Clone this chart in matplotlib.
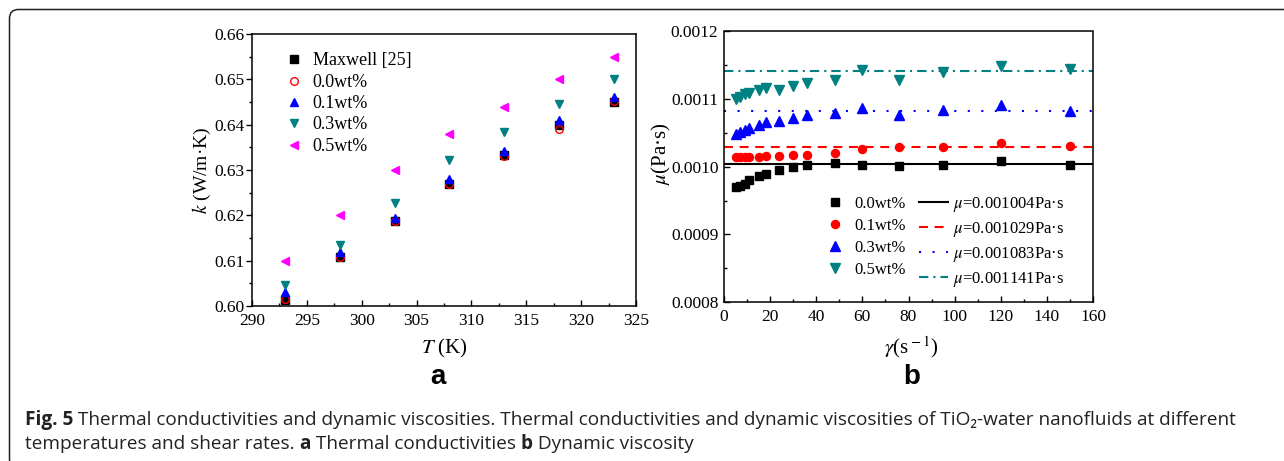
import matplotlib
matplotlib.use('Agg')
import matplotlib.pyplot as plt
from matplotlib import font_manager
from matplotlib.patches import FancyBboxPatch
from matplotlib.lines import Line2D
from matplotlib.transforms import IdentityTransform
from matplotlib.ticker import MultipleLocator, FormatStrFormatter

# ---- panel a: thermal conductivity vs temperature
T = [293, 298, 303, 308, 313, 318, 323]
k_maxwell = [0.6014, 0.6108, 0.6187, 0.6270, 0.6332, 0.6399, 0.6450]
k_00 = [0.6016, 0.6108, 0.6187, 0.6270, 0.6331, 0.6390, 0.6453]
k_01 = [0.6031, 0.6119, 0.6195, 0.6280, 0.6342, 0.6411, 0.6460]
k_03 = [0.6047, 0.6135, 0.6227, 0.6322, 0.6383, 0.6445, 0.6500]
k_05 = [0.6100, 0.6200, 0.6300, 0.6380, 0.6440, 0.6500, 0.6550]
a_labels = ['Maxwell [25]', '0.0wt%', '0.1wt%', '0.3wt%', '0.5wt%']

# ---- panel b: viscosity vs shear rate
gamma = [5, 7, 9, 11, 15, 18, 24, 30, 36, 48, 60, 76, 95, 120, 150]
mu_00 = [0.000970, 0.000972, 0.000975, 0.000980, 0.000987, 0.000990, 0.000995,
         0.000999, 0.001003, 0.001005, 0.001003, 0.001001, 0.001003, 0.001009, 0.001003]
mu_01 = [0.001014, 0.0010143, 0.0010148, 0.001015, 0.001015, 0.001016, 0.0010166,
         0.001017, 0.001017, 0.001020, 0.001026, 0.001029, 0.001029, 0.001035, 0.001031]
mu_03 = [0.001049, 0.001051, 0.001054, 0.001058, 0.001062, 0.001066, 0.001068,
         0.001072, 0.001076, 0.001079, 0.001087, 0.001076, 0.001084, 0.001092, 0.001083]
mu_05 = [0.001100, 0.001103, 0.001107, 0.001109, 0.001113, 0.001117, 0.001114,
         0.001119, 0.001124, 0.001129, 0.001143, 0.001129, 0.001140, 0.001149, 0.001145]
mu_fit = [0.001004, 0.001029, 0.001083, 0.001141]
b_labels = ['0.0wt%', '0.1wt%', '0.3wt%', '0.5wt%']

TEAL = '#008080'

plt.rcParams['font.family'] = ['Liberation Serif', 'DejaVu Serif']
plt.rcParams['mathtext.fontset'] = 'stix'

W, H = 1284, 461
fig = plt.figure(figsize=(W / 100, H / 100), dpi=100)


def px_axes(l, r, t, b):
    return fig.add_axes([l / W, 1 - b / H, (r - l) / W, (b - t) / H])


# ================= panel a
ax = px_axes(252, 636, 34, 306)
ax.plot(T, k_maxwell, 's', color='black', ms=5.2, label=a_labels[0])
ax.plot(T, k_00, 'o', mfc='none', mec='red', mew=1.0, ms=5.5, label=a_labels[1])
ax.plot(T, k_01, '^', color='blue', ms=6.2, label=a_labels[2])
ax.plot(T, k_03, 'v', color=TEAL, ms=6.2, label=a_labels[3])
ax.plot(T, k_05, '<', color='magenta', ms=6.2, label=a_labels[4])
ax.set_xlim(290, 325)
ax.set_ylim(0.60, 0.66)
ax.xaxis.set_major_locator(MultipleLocator(5))
ax.xaxis.set_minor_locator(MultipleLocator(2.5))
ax.yaxis.set_major_locator(MultipleLocator(0.01))
ax.yaxis.set_minor_locator(MultipleLocator(0.005))
ax.yaxis.set_major_formatter(FormatStrFormatter('%.2f'))
ax.tick_params(axis='x', which='both', direction='in', labelsize=12.5, pad=5)
ax.tick_params(axis='y', which='both', direction='out', labelsize=12.5, pad=1.5)
ax.tick_params(which='major', length=4, width=1)
ax.tick_params(which='minor', length=2.5, width=1)
for s in ax.spines.values():
    s.set_linewidth(1.1)
ax.set_xlabel('$T$ (K)', fontsize=15)
ax.set_ylabel('$k$ (W/m·K)', fontsize=14)
ax.xaxis.set_label_coords(0.502, -0.114)
ax.yaxis.set_label_coords(-0.102, 0.5)
ax.legend(loc='upper left', bbox_to_anchor=(0.085, 0.932), frameon=False, fontsize=13,
          borderaxespad=0, borderpad=0, handlelength=1.0, handletextpad=0.55,
          labelspacing=0.24)

# ================= panel b
bx = px_axes(724, 1093, 31.5, 302)
markers = ['s', 'o', '^', 'v']
colors = ['black', 'red', 'blue', TEAL]
sizes = [5.3, 5.8, 6.6, 6.6]
styles = ['-', (0, (4.3, 3.2)), (0, (1.0, 5.5)), (0, (4.5, 2.4, 1.0, 2.4))]
series = [mu_00, mu_01, mu_03, mu_05]
for mu, m, c, ms in zip(series, markers, colors, sizes):
    bx.plot(gamma, mu, m, color=c, ms=ms, ls='none')
for v, c, st in zip(mu_fit, colors, styles):
    bx.axhline(v, color=c, ls=st, lw=1.5)
bx.set_xlim(0, 160)
bx.set_ylim(0.0008, 0.0012)
bx.xaxis.set_major_locator(MultipleLocator(20))
bx.xaxis.set_minor_locator(MultipleLocator(10))
bx.yaxis.set_major_locator(MultipleLocator(0.0001))
bx.yaxis.set_minor_locator(MultipleLocator(0.00005))
bx.yaxis.set_major_formatter(FormatStrFormatter('%.4f'))
bx.tick_params(axis='both', which='both', direction='in', labelsize=12.5)
bx.tick_params(axis='x', pad=5)
bx.tick_params(axis='y', pad=4)
bx.tick_params(which='major', length=4, width=1)
bx.tick_params(which='minor', length=2.5, width=1)
for s in bx.spines.values():
    s.set_linewidth(1.1)
bx.set_xlabel(r'$\gamma$(s$^{\rm -1}$)', fontsize=15)
bx.set_ylabel(r'$\mu$(Pa·s)', fontsize=15)
bx.xaxis.set_label_coords(0.507, -0.118)
bx.yaxis.set_label_coords(-0.138, 0.548)

handles = [Line2D([], [], marker=m, color=c, ms=ms, ls='none')
           for m, c, ms in zip(markers, colors, sizes)]
handles += [Line2D([], [], color=c, ls=st, lw=1.5) for c, st in zip(colors, styles)]
labels = b_labels + [r'$\mu$=%.6fPa·s' % v for v in mu_fit]
bx.legend(handles, labels, ncol=2, loc='upper left', bbox_to_anchor=(0.26, 0.396),
          frameon=False, fontsize=12, borderaxespad=0, borderpad=0,
          handlelength=1.75, handletextpad=0.3, columnspacing=0.8, labelspacing=0.36)

# ================= panel letters
fig.text(438 / W, 1 - 384 / H, 'a', family='Liberation Sans', weight='bold',
         fontsize=20, ha='center', va='baseline')
fig.text(912 / W, 1 - 384 / H, 'b', family='Liberation Sans', weight='bold',
         fontsize=20, ha='center', va='baseline')

# ================= caption
names = {f.name for f in font_manager.fontManager.ttflist}
cap_font = next(n for n in ['Open Sans', 'Liberation Sans', 'DejaVu Sans'] if n in names)
cap_family = [cap_font, 'DejaVu Sans']
renderer = fig.canvas.get_renderer()


def run_width(runs, size):
    w = 0
    for txt, wt in runs:
        t = fig.text(0, 0, txt, family=cap_family, weight=wt, fontsize=size)
        w += t.get_window_extent(renderer).width
        t.remove()
    return w


# "Fig. 5 Thermal conductivities and dynamic" is about 372 px wide in the reference
cap_size = 10 * 372 / run_width([('Fig. 5', 'bold'),
                                 (' Thermal conductivities and dynamic', 'normal')], 10)


def caption_line(x, y, runs):
    for txt, wt in runs:
        t = fig.text(x / W, 1 - y / H, txt, family=cap_family,
                     weight=wt, fontsize=cap_size, color='#222222', va='baseline')
        x = t.get_window_extent(renderer).x1


caption_line(25, 425, [('Fig. 5', 'bold'),
                       (' Thermal conductivities and dynamic viscosities. Thermal '
                        'conductivities and dynamic viscosities of TiO₂-water '
                        'nanofluids at different', 'normal')])
caption_line(25, 449, [('temperatures and shear rates. ', 'normal'), ('a', 'bold'),
                       (' Thermal conductivities ', 'normal'), ('b', 'bold'),
                       (' Dynamic viscosity', 'normal')])

# rounded frame, cut by the image edge at right and bottom
frame = FancyBboxPatch((9.5, H - 468), 1340, 458.5,
                       boxstyle='round,pad=0,rounding_size=9',
                       transform=IdentityTransform(), fill=False,
                       ec='#222222', lw=1.1)
fig.add_artist(frame)

fig.savefig('out.png', dpi=100)
